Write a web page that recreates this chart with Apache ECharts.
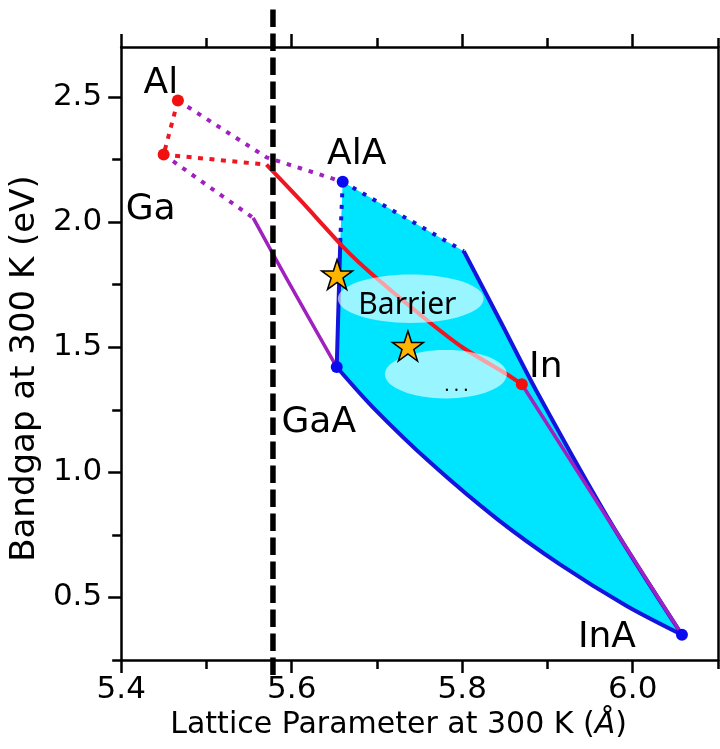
<!DOCTYPE html>
<html>
<head>
<meta charset="utf-8">
<script src="https://cdn.jsdelivr.net/npm/echarts@6/dist/echarts.min.js"></script>
<style>
  html, body { margin: 0; padding: 0; background: #fff; }
  #chart { width: 720px; height: 749px; }
</style>
</head>
<body>
<div id="chart"></div>
<script>
// binary end points: lattice parameter (A), bandgap (eV)
var phosNames = ['Al', 'Ga', 'In'];
var phosA = [5.4665, 5.4498, 5.8699];
var phosEg = [2.486, 2.270, 1.352];
var arsNames = ['AlA', 'GaA', 'InA'];
var arsA = [5.6598, 5.6528, 6.0577];
var arsEg = [2.161, 1.421, 0.351];

// ternary curves [a, Eg]
var alGaP = [[5.4665, 2.486], [5.4498, 2.270]];
var gaInPInd = [[5.4498, 2.270], [5.5704, 2.230]];
var gaInPDir = [[5.5704, 2.230], [5.6112, 2.084], [5.6617, 1.896], [5.6929, 1.796], [5.7551, 1.618], [5.8014, 1.497], [5.8524, 1.392], [5.8699, 1.352]];
var alPAs = [[5.4665, 2.486], [5.5704, 2.259], [5.6598, 2.161]];
var gaPAsInd = [[5.4498, 2.270], [5.5548, 2.017]];
var gaPAsDir = [[5.5548, 2.017], [5.5957, 1.764], [5.6528, 1.421]];
var inPAs = [[5.8699, 1.352], [6.0577, 0.351]];
var alInAsInd = [[5.6598, 2.161], [5.8018, 1.884]];
var alInAsDir = [[5.8018, 1.884], [5.8446, 1.605], [5.8890, 1.313], [5.9729, 0.806], [6.0577, 0.351]];
var alGaAsInd = [[5.6598, 2.161], [5.6571, 1.937]];
var alGaAsDir = [[5.6571, 1.937], [5.6528, 1.421]];
var gaInAs = [[5.6528, 1.421], [5.6949, 1.261], [5.7629, 1.038], [5.8407, 0.814], [5.9146, 0.632], [5.9924, 0.467], [6.0577, 0.351]];

// lattice matched substrate line
var substrateA = 5.578;
var substrateSpan = [2.85, 0.18];

// stars
var starA = [5.6532, 5.7363];
var starEg = [1.791, 1.505];

// highlighted zones [a, Eg, half width, half height]
var zones = [[5.7396, 1.694, 0.0855, 0.0966], [5.7808, 1.392, 0.0715, 0.0966]];
var noteText = ['Barrier', '. . .'];
var noteA = [5.7357, 5.7932];
var noteEg = [1.668, 1.345];

// ticks
var xMajor = [5.4, 5.6, 5.8, 6.0];
var xMinor = [5.5, 5.7, 5.9, 6.1];
var yMajor = [0.5, 1.0, 1.5, 2.0, 2.5];
var yMinor = [0.25, 0.75, 1.25, 1.75, 2.25];

var RED = '#ee1620', PURPLE = '#a020c0', BLUE = '#1414dc', CYAN = '#00e5ff';
var FONT = 'DejaVu Sans';

// cyan region outline
var region = alInAsInd.concat(alInAsDir.slice(1), gaInAs.slice().reverse().slice(1), alGaAsDir.slice().reverse().slice(1));

var labelOffsets = {
  'Al': [-17, -17], 'Ga': [-13, 55], 'In': [24, -17],
  'AlA': [14, -27], 'GaA': [-18, 56], 'InA': [-75, 3]
};

function pairs(xs, ys, names) {
  return xs.map(function (x, i) {
    var d = { value: [x, ys[i]] };
    if (names) d.name = names[i];
    return d;
  });
}

function curve(data, color, dash, width, smooth) {
  return {
    type: 'line', data: data, showSymbol: false, silent: true, z: 3, smooth: smooth || false,
    lineStyle: { color: color, width: width || 4, type: dash || 'solid' }
  };
}

function xAx(pos, ticks, len, main) {
  return {
    type: 'value', position: pos, min: 5.4, max: 6.1, interval: 0.1,
    splitLine: { show: false },
    axisLine: { show: main, onZero: false, lineStyle: { color: '#000', width: 2.5 } },
    axisTick: { show: true, length: len, customValues: ticks, lineStyle: { color: '#000', width: 2.5 } },
    axisLabel: { show: false }
  };
}
function yAx(pos, ticks, len, main) {
  return {
    type: 'value', position: pos, min: 0.25, max: 2.7, interval: 0.25,
    splitLine: { show: false },
    axisLine: { show: main, onZero: false, lineStyle: { color: '#000', width: 2.5 } },
    axisTick: { show: !!ticks, length: len, customValues: ticks || [], lineStyle: { color: '#000', width: 2.5 } },
    axisLabel: { show: false }
  };
}

var xBottom = xAx('bottom', xMajor, 13, true);
xBottom.axisLabel = {
  show: true, customValues: xMajor, margin: 14, fontSize: 31, color: '#000', fontFamily: FONT,
  formatter: function (v) { return v.toFixed(1); }
};
xBottom.name = 'Lattice Parameter at 300 K ({i|Å})';
xBottom.nameLocation = 'middle';
xBottom.nameGap = 47;
xBottom.nameTextStyle = {
  fontSize: 30, color: '#000', fontFamily: FONT, padding: [0, 42, 0, 0],
  rich: { i: { fontSize: 30, fontStyle: 'italic', fontFamily: FONT, color: '#000' } }
};

var yLeft = yAx('left', yMajor, 13, true);
yLeft.axisLabel = {
  show: true, customValues: yMajor, margin: 19, fontSize: 31, color: '#000', fontFamily: FONT,
  formatter: function (v) { return v.toFixed(1); }
};
yLeft.name = 'Bandgap at 300 K (eV)';
yLeft.nameLocation = 'middle';
yLeft.nameRotate = 90;
yLeft.nameGap = 74;
yLeft.nameTextStyle = { fontSize: 34, color: '#000', fontFamily: FONT, padding: [0, 30, 0, 0] };

var chart = echarts.init(document.getElementById('chart'));

var option = {
  animation: false,
  backgroundColor: '#fff',
  textStyle: { fontFamily: FONT },
  grid: { left: 119, top: 47, right: 2, bottom: 89 },
  xAxis: [xBottom, xAx('bottom', xMinor, 9, false), xAx('top', xMajor, 13, true), xAx('top', xMinor, 9, false)],
  yAxis: [yLeft, yAx('left', yMinor, 9, false), yAx('right', null, 0, true)],
  series: [
    {
      type: 'custom', silent: true, z: 1, data: [0],
      renderItem: function (params, api) {
        return {
          type: 'polygon',
          shape: { points: region.map(function (p) { return api.coord(p); }) },
          style: { fill: CYAN }
        };
      }
    },
    curve(alInAsInd, BLUE, [4, 7.5], 4),
    curve(alInAsDir, BLUE, 'solid', 4, 0.3),
    curve(alGaAsInd, BLUE, [4, 7.5], 4),
    curve(alGaAsDir, BLUE, 'solid', 4),
    curve(gaInAs, BLUE, 'solid', 4, 0.3),
    curve(alPAs, PURPLE, [4.5, 7], 4),
    curve(gaPAsInd, PURPLE, [4.5, 7], 4),
    curve(gaPAsDir, PURPLE, 'solid', 3.5, 0.3),
    curve(inPAs, PURPLE, 'solid', 3.5),
    curve(alGaP, RED, [5, 6.5], 4),
    curve(gaInPInd, RED, [5, 6.5], 4),
    curve(gaInPDir, RED, 'solid', 4, 0.2),
    {
      type: 'line', silent: true, showSymbol: false, clip: false, z: 4,
      data: [[substrateA, substrateSpan[0]], [substrateA, substrateSpan[1]]],
      lineStyle: { color: '#000', width: 5.5, type: [17.5, 6.5] }
    },
    {
      type: 'custom', silent: true, z: 5, data: zones,
      renderItem: function (params, api) {
        var c = api.coord([api.value(0), api.value(1)]);
        var s = api.size([api.value(2), api.value(3)]);
        return {
          type: 'ellipse',
          shape: { cx: c[0], cy: c[1], rx: s[0], ry: s[1] },
          style: { fill: 'rgba(255,255,255,0.6)' }
        };
      }
    },
    {
      type: 'scatter', silent: true, z: 6, symbolSize: 0.1,
      itemStyle: { color: 'rgba(0,0,0,0)', opacity: 1 },
      data: pairs(noteA, noteEg, noteText),
      label: {
        show: true, position: 'inside', color: '#000', fontFamily: 'Noto Sans',
        formatter: function (p) { return p.name; },
        fontSize: 30,
        rich: {}
      },
      labelLayout: function (p) { return p.text === '. . .' ? { fontSize: 18 } : {}; }
    },
    {
      type: 'scatter', silent: true, z: 7,
      symbol: 'path://M50,0 L61.23,34.55 L97.55,34.55 L68.16,55.9 L79.39,90.45 L50,69.1 L20.61,90.45 L31.84,55.9 L2.45,34.55 L38.77,34.55 Z',
      symbolSize: [31, 30],
      itemStyle: { color: '#ffb400', borderColor: '#000', borderWidth: 1.5, opacity: 1 },
      data: pairs(starA, starEg)
    },
    {
      type: 'scatter', silent: true, z: 8, symbolSize: 12,
      itemStyle: { color: '#f01010', opacity: 1 },
      data: pairs(phosA, phosEg, phosNames).map(function (d) {
        d.label = { offset: labelOffsets[d.name] };
        return d;
      }),
      label: { show: true, position: 'inside', formatter: '{b}', color: '#000', fontSize: 36, fontFamily: FONT }
    },
    {
      type: 'scatter', silent: true, z: 8, symbolSize: 12,
      itemStyle: { color: '#0a0af0', opacity: 1 },
      data: pairs(arsA, arsEg, arsNames).map(function (d) {
        d.label = { offset: labelOffsets[d.name] };
        return d;
      }),
      label: { show: true, position: 'inside', formatter: '{b}', color: '#000', fontSize: 36, fontFamily: FONT }
    }
  ]
};

chart.setOption(option);
</script>
</body>
</html>
